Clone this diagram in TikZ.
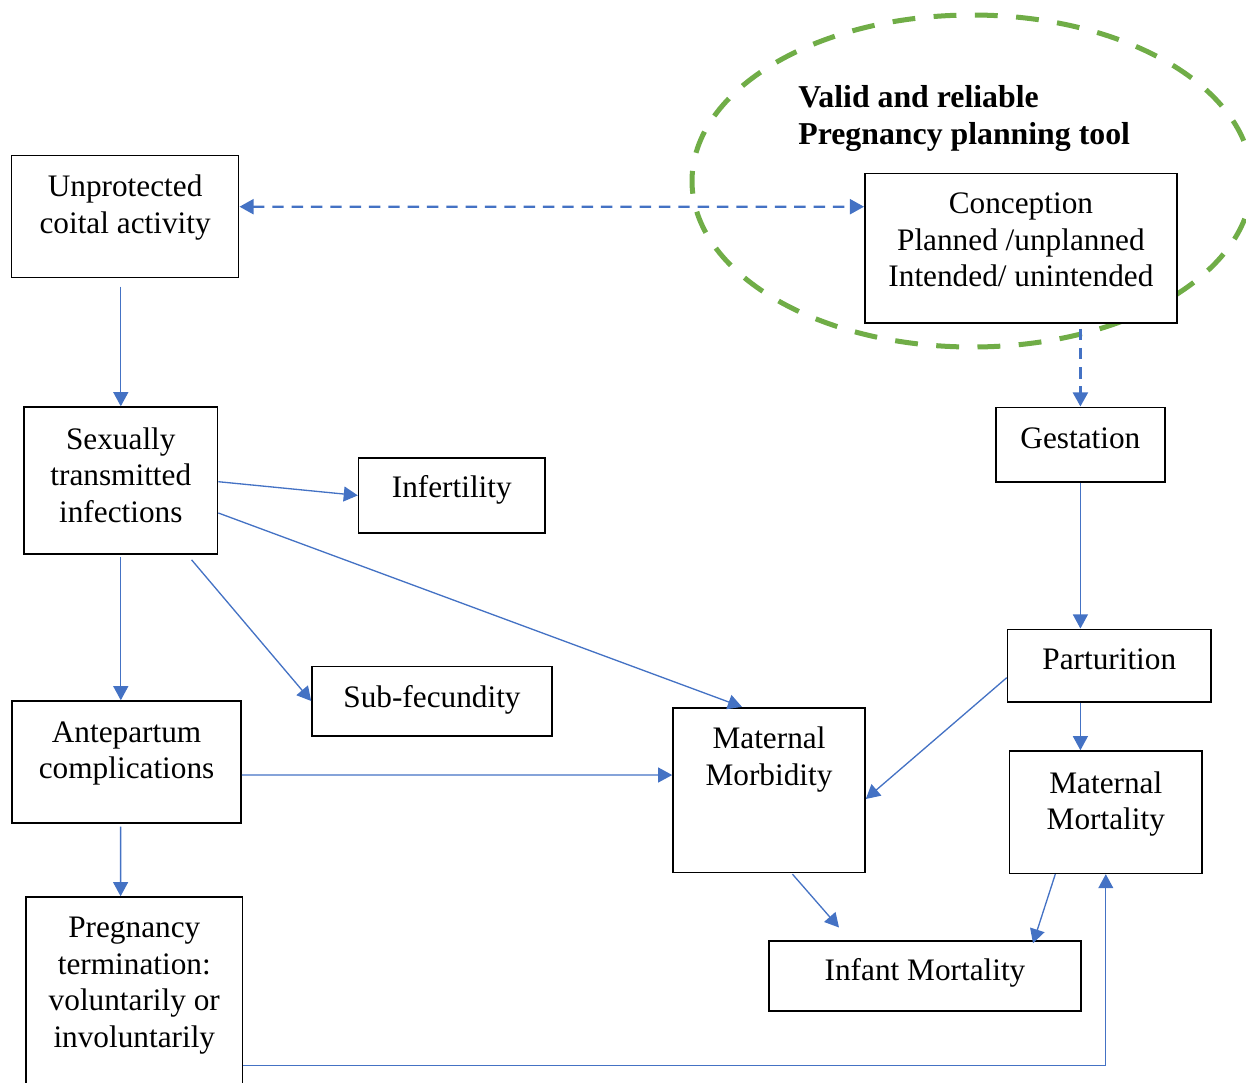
\documentclass[tikz,border=0pt]{standalone}
\usepackage{fontspec}
\setmainfont{Liberation Serif}
\usepackage{xcolor}
\usepackage{tikz}
\usetikzlibrary{arrows.meta,calc,positioning}
\definecolor{flowblue}{HTML}{4472C4}
\definecolor{toolgreen}{HTML}{70AD47}
\tikzset{
	>={Triangle[length=8pt,width=8.5pt]},
	box/.style = {
			draw, fill = white,
			line width = 0.9pt,
			inner sep  = 0pt,
		},
	boxtext/.style = {
			font      = \fontsize{17.8pt}{20.8pt}\selectfont,
			align     = center,
			inner sep = 0pt,
			execute at begin node = \strut,
			execute at end node   = \strut,
		},
	tooltext/.style = {
			boxtext,
			font  = \fontsize{18.1pt}{20.8pt}\selectfont\bfseries,
			align = left,
		},
	flow/.style     = {draw=flowblue, line width=0.75pt, ->},
	dashflow/.style = {flow, line width=1.3pt, dash pattern=on 6.5pt off 4.5pt},
	tooldash/.style = {draw=toolgreen, line width=2.85pt, dash pattern=on 13pt off 10.5pt},
}
\begin{document}
\begin{tikzpicture}[x=0.2mm, y=-0.2mm]
		\useasboundingbox (0,0) rectangle (1246,1082);

		\draw[tooldash] (972,181) ellipse [x radius=56mm, y radius=33.2mm];
		\node[tooltext, anchor=west] at (798,120.7) (tool) {Valid and reliable\\Pregnancy planning tool};

		\node[box, minimum width=45.44mm, minimum height=24.4mm, label={[boxtext, yshift=1.43mm]center:{Unprotected\\coital activity}}] at (125.1,216.7) (unprot) {};
		\node[box, minimum width=38.72mm, minimum height=29.34mm, label={[boxtext, yshift=0.04mm]center:{Sexually\\transmitted\\infections}}] at (120.8,480.4) (sti) {};
		\node[box, minimum width=37.28mm, minimum height=14.94mm, label={[boxtext, yshift=1.14mm]center:{Infertility}}] at (451.8,495.4) (infert) {};
		\node[box, minimum width=48mm, minimum height=13.88mm, label={[boxtext, yshift=0.26mm]center:{Sub-fecundity}}] at (432,701) (subfec) {};
		\node[box, minimum width=45.76mm, minimum height=24.34mm, label={[boxtext, yshift=1.24mm]center:{Antepartum\\complications}}] at (126.6,761.9) (ante) {};
		\node[box, minimum width=43.32mm, minimum height=42.6mm, label={[boxtext, yshift=3.16mm]center:{Pregnancy\\termination:\\voluntarily or\\involuntarily}}] at (134.3,1003.5) (term) {};

		\node[box, minimum width=62.44mm, minimum height=29.88mm, label={[boxtext, yshift=0.56mm]center:{Conception\\Planned /unplanned\\Intended/ unintended}}] at (1020.9,248) (conc) {};
		\node[box, minimum width=33.76mm, minimum height=14.88mm, label={[boxtext, yshift=0.76mm]center:{Gestation}}] at (1080.4,444.5) (gest) {};
		\node[box, minimum width=40.7mm, minimum height=14.48mm, label={[boxtext, yshift=0.76mm]center:{Parturition}}] at (1109.25,665.5) (part) {};
		\node[box, minimum width=38.4mm, minimum height=32.92mm, label={[boxtext, yshift=5.66mm]center:{Maternal\\Morbidity}}] at (769,790) (morb) {};
		\node[box, minimum width=38.48mm, minimum height=24.46mm, label={[boxtext, yshift=1.2mm]center:{Maternal\\Mortality}}] at (1105.8,812.2) (mort) {};
		\node[box, minimum width=62.4mm, minimum height=14mm, label={[boxtext, yshift=0.66mm]center:{Infant Mortality}}] at (925,976) (infant) {};

		\draw[dashflow, <->] ($(unprot.east)+(0,-10)$) -- ($(conc.west)+(0,-41.3)$);
		\draw[flow, shorten <=1.6mm] (unprot.south -| sti.north) -- (sti.north);
		\draw[flow] ($(sti.east)+(0,1.3)$) -- (infert.west);
		\draw[flow] ($(sti.east)+(0,32.6)$) -- ($(morb.north)+(-27,0)$);
		\draw[flow] ($(sti.south)+(70.8,5.3)$) -- (subfec.west);
		\draw[flow, shorten <=0.5mm] (sti.south) -- (sti.south |- ante.north);
		\draw[flow] ($(ante.east)+(0,13.1)$) -- ($(morb.west)+(0,-15)$);
		\draw[flow] ($(ante.south)+(-6,3)$) -- ($(term.north)+(-13.7,0)$);
		\draw[flow] ($(term.east)+(0,62)$) -| (mort.south);
		\draw[dashflow] ($(conc.south)+(59.5,5)$) -- (gest.north);
		\draw[flow] (gest.south) -- (gest.south |- part.north);
		\draw[flow] ($(part.west)+(0,12.2)$) -- ($(morb.east)+(0,9)$);
		\draw[flow] (part.south -| gest.south) -- (gest.south |- mort.north);
		\draw[flow] ($(morb.south)+(23.4,1)$) -- ($(infant.north)+(-86,-12.7)$);
		\draw[flow] ($(mort.south)+(-50.5,0)$) -- ($(infant.north)+(108,3)$);
	\end{tikzpicture}
\end{document}
